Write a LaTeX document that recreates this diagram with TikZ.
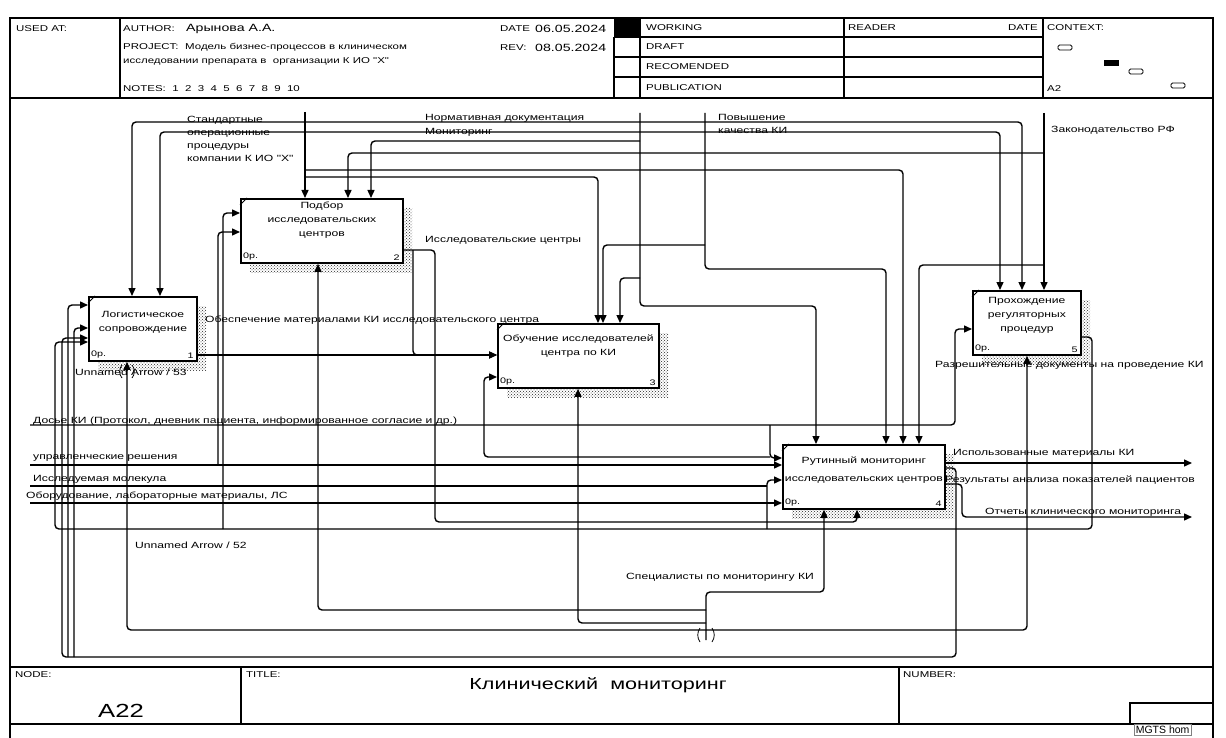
\documentclass[tikz,border=0pt]{standalone}
\usepackage{fontspec}
\setmainfont{Liberation Sans}
\newfontfamily\lf[FakeStretch=1.35]{Liberation Sans}
\usetikzlibrary{arrows.meta,patterns}

\tikzset{
  ln/.style={draw=black, line width=1.4pt, rounded corners=4pt},
  arr/.style={ln, -{Triangle[length=8pt,width=7pt]}},
  rule/.style={draw=black, line width=1.5pt},
  thin/.style={draw=black, line width=0.8pt},
  fbox/.style={draw=black, line width=1.8pt, fill=white, anchor=north west, inner sep=0pt},
  shade/.style={pattern=crosshatch dots, pattern color=black!85},
  lbl/.style={font=\lf\fontsize{9}{10.5}\selectfont, inner sep=0pt, anchor=west},
  hdr/.style={font=\lf\fontsize{8.5}{10}\selectfont, inner sep=0pt, anchor=west},
  big/.style={font=\lf\fontsize{10.5}{12}\selectfont, inner sep=0pt, anchor=west},
  btxt/.style={font=\lf\fontsize{9}{14}\selectfont, align=center, inner sep=0pt, anchor=north},
  corner/.style={font=\lf\fontsize{8}{9}\selectfont, inner sep=0pt},
  ctx/.style={draw=black, line width=0.9pt, rounded corners=1.5pt, fill=white}
}

% activity box: name, x, y, width, height, text offset, text, number
\newcommand\idefbox[8]{%
  \fill[shade] (#2+10,#3+10) rectangle (#2+#4+10,#3+#5+10);
  \node[fbox, minimum width=#4pt, minimum height=#5pt] (#1) at (#2,#3) {};
  \draw[thin] ([yshift=-7]#1.north west) -- ([xshift=7]#1.north west);
  \node[btxt] at ([yshift=-#6]#1.north) {#7};
  \node[corner, anchor=south west] at ([xshift=3,yshift=3]#1.south west) {0р.};
  \node[corner, anchor=south east] at ([xshift=-4,yshift=3]#1.south east) {#8};
}

\begin{document}
\begin{tikzpicture}[x=1pt,y=-1pt]
\useasboundingbox (0,0) rectangle (1226,738);
\fill[white] (0,0) rectangle (1226,738);

% ---------- outer frame, header and footer ----------
\draw[rule] (10,18) rectangle (1213,770);
\draw[rule] (10,98) -- (1213,98);
\draw[rule] (120,18) -- (120,98);
\draw[rule] (640,18) -- (640,98);
\draw[rule] (614,37) -- (614,98);
\draw[rule] (844,18) -- (844,98);
\draw[rule] (1043,18) -- (1043,98);
\foreach \yy in {37,57,77} \draw[rule] (614,\yy) -- (1043,\yy);
\fill[black] (614,18) rectangle (640,36);

\node[hdr] (usedat) at (16,29) {USED AT:};
\node[hdr] (author) at (123,29) {AUTHOR:};
\node[big] (authname) at (186,29) {Арынова А.А.};
\node[hdr] (project) at (123,47) {PROJECT:};
\node[hdr] (proj1) at (185,47) {Модель бизнес-процессов в клиническом};
\node[hdr] (proj2) at (123,61) {исследовании препарата в\ \ организации К ИО "Х"};
\node[hdr] (notes) at (123,89) {NOTES:\ \ 1\ \ 2\ \ 3\ \ 4\ \ 5\ \ 6\ \ 7\ \ 8\ \ 9\ \ 10};
\node[hdr] (datel) at (500,29) {DATE};
\node[big] (datev) at (535,29) {06.05.2024};
\node[hdr] (revl) at (500,48) {REV:};
\node[big] (revv) at (535,48) {08.05.2024};
\node[hdr] (working) at (646,28) {WORKING};
\node[hdr] (draft) at (646,47) {DRAFT};
\node[hdr] (recom) at (646,67) {RECOMENDED};
\node[hdr] (publ) at (646,88) {PUBLICATION};
\node[hdr] (reader) at (848,28) {READER};
\node[hdr, anchor=east] (rdate) at (1038,28) {DATE};
\node[hdr] (context) at (1047,28) {CONTEXT:};
\node[hdr] (ctxnode) at (1047,89) {A2};
\draw[ctx] (1058,45) rectangle (1072,50);
\fill[black] (1104,60) rectangle (1119,66);
\draw[ctx] (1129,69) rectangle (1143,74);
\draw[ctx] (1171,83) rectangle (1185,88);

\draw[rule] (10,667) -- (1213,667);
\draw[rule] (10,724) -- (1213,724);
\draw[rule] (241,667) -- (241,724);
\draw[rule] (899,667) -- (899,724);
\node[hdr] (nodel) at (15,675) {NODE:};
\node[hdr] (titlel) at (246,675) {TITLE:};
\node[hdr] (numl) at (903,675) {NUMBER:};
\node[font=\lf\fontsize{16}{18}\selectfont, inner sep=0pt] (title) at (598,685) {Клинический\ \ мониторинг};
\node[font=\lf\fontsize{19}{21}\selectfont, inner sep=0pt] (nodeid) at (121,711) {A22};
\draw[rule] (1130,724) -- (1130,703) -- (1213,703);
\node[draw=black!50, fill=white, line width=0.6pt, font=\fontsize{10.5}{11}\selectfont, inner sep=1.5pt, anchor=north west] (tip) at (1134,724) {MGTS hom};

% ---------- activity boxes ----------
\idefbox{b1}{88}{296}{108}{64}{15}{Логистическое\\сопровождение}{1}
\idefbox{b2}{240}{198}{162}{64}{4}{Подбор\\исследовательских\\центров}{2}
\idefbox{b3}{497}{323}{161}{64}{12}{Обучение исследователей\\центра по КИ}{3}
\idefbox{b4}{782}{444}{162}{64}{13}{Рутинный мониторинг\\[4pt]исследовательских центров}{4}
\idefbox{b5}{972}{290}{108}{64}{7}{Прохождение\\регуляторных\\процедур}{5}

% ---------- boundary points ----------
\coordinate (sop) at (305,112);
\coordinate (norm) at (640,113);
\coordinate (pov) at (705,113);
\coordinate (zak) at (1044,113);
\coordinate (dos) at (30,425);
\coordinate (upr) at (30,465);
\coordinate (mol) at (30,486);
\coordinate (obo) at (30,503);
\coordinate (spec) at (706,640);
\coordinate (out1) at (1192,463);
\coordinate (out3) at (1192,517);

% ---------- controls ----------
\draw[arr] (sop) -- ([xshift=65]b2.north west);
\draw[arr] (305,122) -| ([xshift=44]b1.north west);
\draw[arr] (305,132) -| ([xshift=72]b1.north west);
\draw[arr] (305,122) -| ([xshift=50]b5.north west);
\draw[arr] (305,132) -| ([xshift=28]b5.north west);
\draw[arr] (305,170) -| ([xshift=121]b4.north west);
\draw[arr] (305,177) -| ([xshift=101]b3.north west);

\draw[arr] (norm) -- (640,306) -| ([xshift=34]b4.north west);
\draw[arr] (640,141) -| ([xshift=131]b2.north west);
\draw[arr] (640,278) -| ([xshift=123]b3.north west);

\draw[arr] (pov) -- (705,269) -| ([xshift=104]b4.north west);
\draw[arr] (705,245) -| ([xshift=106]b3.north west);

\draw[arr] (zak) -- ([xshift=72]b5.north west);
\draw[arr] (1044,153) -| ([xshift=108]b2.north west);
\draw[arr] (1044,265) -| ([xshift=137]b4.north west);

% ---------- outputs and inputs between boxes ----------
\draw[arr] ([yshift=-59]b1.north east) -- ([yshift=-32]b3.north west);
\draw[arr] ([yshift=-52]b2.north east) -- (435,250) -- (435,522) -| ([xshift=75]b4.south west);
\draw[arr] (413,250) -- (413,355) -- ([yshift=-32]b3.north west);

\draw[arr] (dos) -- (955,425) -- (955,329) -- ([yshift=-39]b5.north west);
\draw[arr] (770,425) -- (770,458) -- ([yshift=-14]b4.north west);
\draw[arr] (770,457) -- (484,457) -- (484,377) -- ([yshift=-54]b3.north west);

\draw[arr] (upr) -- ([yshift=-21]b4.north west);
\draw[arr] (218,465) -- (218,232) -- ([yshift=-34]b2.north west);
\draw[ln] (mol) -- (767,486);
\draw[arr] (obo) -- ([yshift=-59]b4.north west);

\draw[arr] ([yshift=-47]b5.north east) -- (1092,337) -- (1092,529) -- (55,529) -- (55,342) -- ([yshift=-46]b1.north west);
\draw[arr] (767,529) -- (767,480) -- ([yshift=-36]b4.north west);
\draw[arr] (223,529) -- (223,213) -- ([yshift=-15]b2.north west);

\draw[arr] ([yshift=-19]b4.north east) -- (out1);
\draw[arr] ([yshift=-40]b4.north east) -- (962,484) -- (962,517) -- (out3);
\draw[arr] ([yshift=-24]b4.north east) -- (956,468) -- (956,657) -- (62,657) -- (62,338) -- ([yshift=-42]b1.north west);
\draw[arr] (74,657) -- (74,328) -- ([yshift=-32]b1.north west);
\draw[arr] (68,657) -- (68,305) -- ([yshift=-9]b1.north west);

% ---------- mechanisms ----------
\draw[arr] (spec) -- (706,592) -| ([xshift=42]b4.south west);
\draw[arr] (706,610) -| ([xshift=78]b2.south west);
\draw[arr] (706,623) -| ([xshift=81]b3.south west);
\draw[arr] (706,630) -| ([xshift=39]b1.south west);
\draw[arr] (706,630) -| ([xshift=55]b5.south west);

% tunnel marks
\draw[thin] (700,628) .. controls (697,632) and (697,638) .. (700,642);
\draw[thin] (712,628) .. controls (715,632) and (715,638) .. (712,642);
\draw[thin] (122,365) .. controls (119,368) and (119,375) .. (122,378);
\draw[thin] (132,365) .. controls (135,368) and (135,375) .. (132,378);

% ---------- arrow labels ----------
\node[lbl, align=left, anchor=north west, font=\lf\fontsize{9}{13}\selectfont] (sopl) at (187,116) {Стандартные\\операционные\\процедуры\\компании К ИО "Х"};
\node[lbl] (norml) at (425,118) {Нормативная документация};
\node[lbl] (monl) at (425,132) {Мониторинг};
\node[lbl, align=left, font=\lf\fontsize{9}{13}\selectfont] (povl) at (718,124) {Повышение\\качества КИ};
\node[lbl] (zakl) at (1051,130) {Законодательство РФ};
\node[lbl] (resl) at (425,240) {Исследовательские центры};
\node[lbl] (obesl) at (205,320) {Обеспечение материалами КИ исследовательского центра};
\node[lbl] (un53) at (75,372) {Unnamed Arrow / 53};
\node[lbl] (un52) at (135,545) {Unnamed Arrow / 52};
\node[lbl] (dosl) at (33,421) {Досье КИ (Протокол, дневник пациента, информированное согласие и др.)};
\node[lbl] (uprl) at (33,458) {управленческие решения};
\node[lbl] (moll) at (33,479) {Исследуемая молекула};
\node[lbl] (obol) at (26,496) {Оборудование, лабораторные материалы, ЛС};
\node[lbl] (usedl) at (953,453) {Использованные материалы КИ};
\node[lbl] (resul) at (945,480) {Результаты анализа показателей пациентов};
\node[lbl] (repl) at (985,512) {Отчеты клинического мониторинга};
\node[lbl] (perml) at (935,365) {Разрешительные документы на проведение КИ};
\node[lbl] (specl) at (626,577) {Специалисты по мониторингу КИ};
\end{tikzpicture}
\end{document}
